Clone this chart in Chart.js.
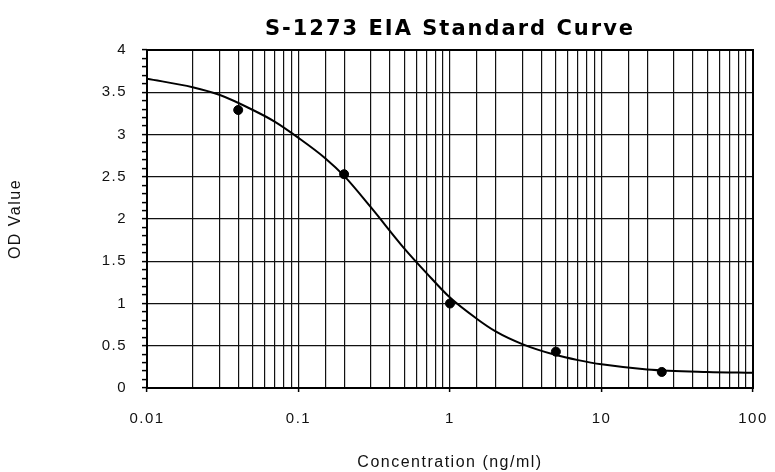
<!DOCTYPE html>
<html>
<head>
<meta charset="utf-8">
<script src="https://cdn.jsdelivr.net/npm/chart.js@4/dist/chart.umd.min.js"></script>
<style>
  html, body { margin: 0; padding: 0; background: #fff; }
  #wrap { width: 775px; height: 472px; }
</style>
</head>
<body>
<div id="wrap"><canvas id="curveChart" width="775" height="472"></canvas></div>
<script>
// Standards (measured points)
const standardConc = [0.04, 0.2, 1, 5, 25];
const standardOD = [3.29, 2.53, 1.0, 0.43, 0.19];

// Fitted curve
const curveConc = [0.01, 0.02, 0.03, 0.05, 0.07, 0.1, 0.15, 0.2, 0.3, 0.5, 0.7, 1, 1.5, 2, 3, 5, 7, 10, 20, 50, 100];
const curveOD = [3.66, 3.56, 3.47, 3.29, 3.15, 2.96, 2.72, 2.51, 2.14, 1.65, 1.36, 1.07, 0.82, 0.67, 0.52, 0.39, 0.33, 0.28, 0.22, 0.19, 0.18];

const xDecades = [0.01, 0.1, 1, 10, 100];
const yLabelStep = 0.5;

const chartTitle = "S-1273 EIA Standard Curve";
const FONT = "'Liberation Sans', Arial, sans-serif";

function isDecade(v) {
    return xDecades.some(d => Math.abs(v - d) / d < 1e-6);
}
function isHalf(v) {
    return Math.abs(v / yLabelStep - Math.round(v / yLabelStep)) < 1e-6;
}

// wider letter spacing like the original, frame and centred title
const decor = {
    id: "decor",
    beforeDraw(chart) {
        chart.ctx.letterSpacing = "1.5px";
    },
    afterDraw(chart) {
        const { ctx, chartArea: a } = chart;
        ctx.save();
        ctx.strokeStyle = "#000";
        ctx.lineWidth = 2;
        ctx.strokeRect(a.left, a.top, a.right - a.left, a.bottom - a.top);
        ctx.letterSpacing = "2px";
        ctx.fillStyle = "#000";
        ctx.font = "bold 21px 'DejaVu Sans', sans-serif";
        ctx.textAlign = "center";
        ctx.textBaseline = "middle";
        ctx.fillText(chartTitle, (a.left + a.right) / 2, 30);
        ctx.restore();
        ctx.letterSpacing = "0px";
    }
};

const ctx = document.getElementById("curveChart").getContext("2d");
new Chart(ctx, {
    type: "scatter",
    data: {
        datasets: [
            {
                type: "line",
                data: curveConc.map((x, i) => ({ x: x, y: curveOD[i] })),
                borderColor: "#000",
                borderWidth: 2,
                pointRadius: 0,
                cubicInterpolationMode: "monotone",
                fill: false
            },
            {
                data: standardConc.map((x, i) => ({ x: x, y: standardOD[i] })),
                backgroundColor: "#000",
                borderColor: "#000",
                pointRadius: 4.5
            }
        ]
    },
    options: {
        responsive: false,
        animation: false,
        layout: { padding: { left: 6, right: 22, top: 50, bottom: 0 } },
        plugins: {
            legend: { display: false },
            tooltip: { enabled: false }
        },
        scales: {
            x: {
                type: "logarithmic",
                min: 0.01,
                max: 100,
                afterFit(scale) {
                    scale.height = 84;
                    scale.paddingLeft = 0;
                    scale.paddingRight = 0;
                },
                border: { display: false },
                grid: {
                    color: "#111",
                    lineWidth: 1.2,
                    tickLength: 4,
                    tickColor: c => isDecade(c.tick.value) ? "#000" : "rgba(0,0,0,0)",
                    tickWidth: 1.5
                },
                ticks: {
                    autoSkip: false,
                    maxRotation: 0,
                    padding: 18,
                    color: "#111",
                    font: { family: FONT, size: 15 },
                    callback: v => isDecade(v) ? String(v) : ""
                },
                title: {
                    display: true,
                    text: "Concentration (ng/ml)",
                    color: "#111",
                    font: { family: FONT, size: 16 },
                    padding: { top: 0, bottom: 0 }
                }
            },
            y: {
                min: 0,
                max: 4,
                afterFit(scale) { scale.width = 141; },
                border: { display: false },
                grid: {
                    color: c => isHalf(c.tick.value) ? "#111" : "rgba(0,0,0,0)",
                    lineWidth: 1.2,
                    tickLength: 5,
                    tickColor: "#000",
                    tickWidth: 1.5
                },
                ticks: {
                    stepSize: 0.1,
                    autoSkip: false,
                    padding: 15,
                    color: "#111",
                    font: { family: FONT, size: 15 },
                    callback: v => isHalf(v) ? String(Math.round(v * 2) / 2) : ""
                },
                title: {
                    display: true,
                    text: "OD Value",
                    color: "#111",
                    font: { family: FONT, size: 16 },
                    padding: { top: 0, bottom: 0 }
                }
            }
        }
    },
    plugins: [decor]
});
</script>
</body>
</html>
